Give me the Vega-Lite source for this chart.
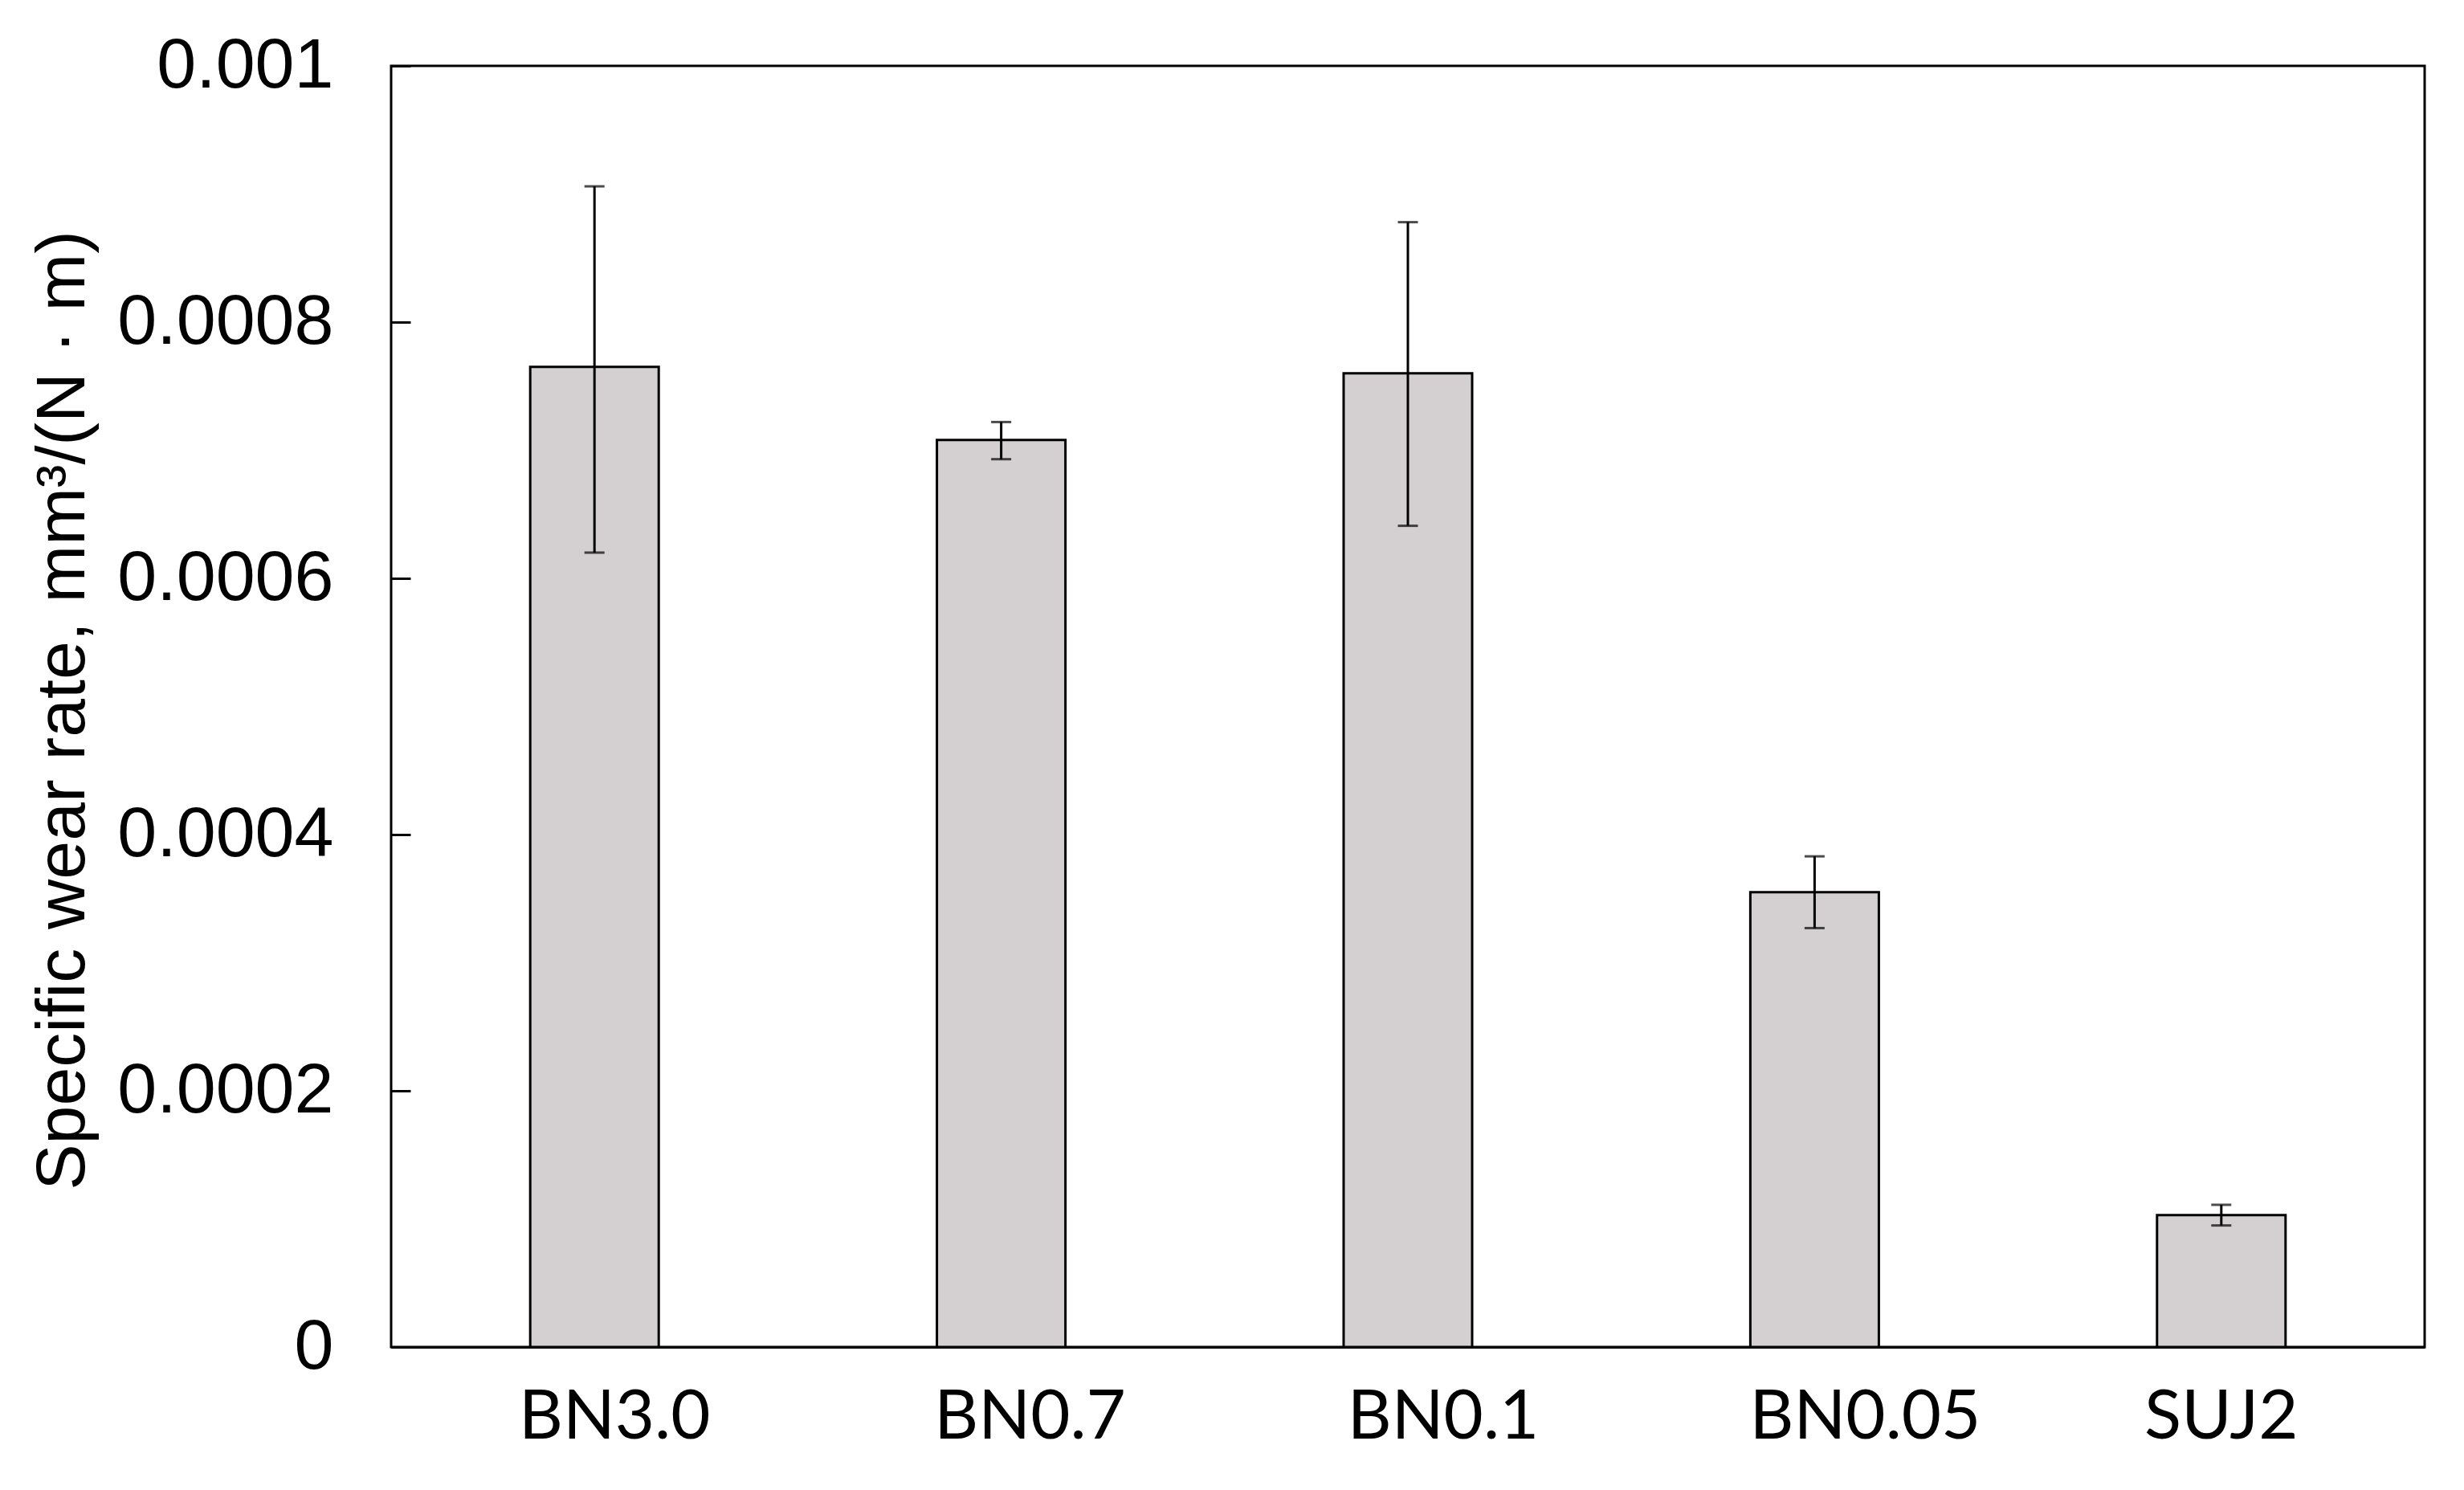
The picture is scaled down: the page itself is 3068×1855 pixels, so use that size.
{
  "$schema": "https://vega.github.io/schema/vega-lite/v6.json",
  "width": 2532,
  "height": 1595,
  "autosize": "none",
  "padding": {"left": 487, "top": 82, "right": 49, "bottom": 178},
  "background": "white",
  "config": {
    "view": {"stroke": "black", "strokeWidth": 3},
    "axis": {"grid": false, "domainColor": "black", "domainWidth": 3, "labelColor": "black", "titleColor": "black", "labelLimit": 1000}
  },
  "data": {
    "values": [
      {"sample": "BN3.0", "rate": 0.000765, "lo": 0.000620, "hi": 0.000906},
      {"sample": "BN0.7", "rate": 0.000708, "lo": 0.000693, "hi": 0.000722},
      {"sample": "BN0.1", "rate": 0.000760, "lo": 0.000641, "hi": 0.000878},
      {"sample": "BN0.05", "rate": 0.000355, "lo": 0.000327, "hi": 0.000383},
      {"sample": "SUJ2", "rate": 0.000103, "lo": 0.0000949, "hi": 0.000111}
    ]
  },
  "encoding": {
    "x": {
      "field": "sample",
      "type": "nominal",
      "sort": null,
      "title": null,
      "scale": {"paddingInner": 0, "paddingOuter": 0},
      "axis": {
        "ticks": false,
        "labelAngle": 0,
        "labelFont": "Lato",
        "labelFontSize": 85,
        "labelPadding": 46,
        "labelOffset": {
          "condition": [
            {"test": "datum.value === 'BN3.0'", "value": 25},
            {"test": "datum.value === 'BN0.7'", "value": 36},
            {"test": "datum.value === 'BN0.1'", "value": 44},
            {"test": "datum.value === 'BN0.05'", "value": 63}
          ],
          "value": 0
        }
      }
    }
  },
  "layer": [
    {
      "mark": {"type": "bar", "width": {"band": 0.316}, "fill": "#d4d0d1", "stroke": "black", "strokeWidth": 3},
      "encoding": {
        "y": {
          "field": "rate",
          "type": "quantitative",
          "scale": {"domain": [0, 0.001], "nice": false},
          "title": "Specific wear rate, mm³/(N · m)",
          "axis": {
            "values": [0, 0.0002, 0.0004, 0.0006, 0.0008, 0.001],
            "labelExpr": "datum.value == 0 ? '0' : format(datum.value, '.4~f')",
            "offset": -24,
            "domain": false,
            "tickSize": 24,
            "tickWidth": 3,
            "tickColor": "black",
            "labelFont": "Liberation Sans",
            "labelFontSize": 88,
            "labelPadding": 72,
            "titleFont": "Liberation Sans",
            "titleFontSize": 86,
            "titleFontWeight": "normal",
            "titleX": -433,
            "titleY": 802,
            "titleAlign": "center",
            "titleBaseline": "middle"
          }
        }
      }
    },
    {
      "mark": {"type": "rule", "color": "black", "strokeWidth": 3},
      "encoding": {
        "y": {"field": "lo", "type": "quantitative"},
        "y2": {"field": "hi"}
      }
    },
    {
      "mark": {"type": "tick", "color": "black", "size": 25, "thickness": 3},
      "encoding": {"y": {"field": "lo", "type": "quantitative"}}
    },
    {
      "mark": {"type": "tick", "color": "black", "size": 25, "thickness": 3},
      "encoding": {"y": {"field": "hi", "type": "quantitative"}}
    }
  ]
}
